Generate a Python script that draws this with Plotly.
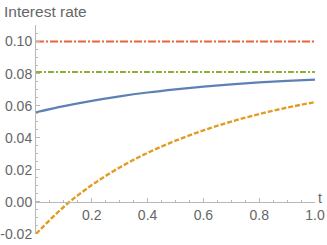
import plotly.graph_objects as go

# data
t_vals = [0.0, 0.1, 0.2, 0.3, 0.4, 0.5, 0.6, 0.7, 0.8, 0.9, 1.0]
blue_rate = [0.0559, 0.0597, 0.0630, 0.0658, 0.0682, 0.0702, 0.0719, 0.0733, 0.0745, 0.0755, 0.0763]
orange_rate = [-0.0200, -0.0030, 0.0105, 0.0215, 0.0306, 0.0382, 0.0446, 0.0501, 0.0548, 0.0588, 0.0622]
green_rate = [0.081, 0.081]
red_rate = [0.100, 0.100]
flat_t = [0.0, 1.0]

x_tick_vals = [0.2, 0.4, 0.6, 0.8, 1.0]
x_tick_text = ["0.2", "0.4", "0.6", "0.8", "1.0"]
y_tick_vals = [-0.02, 0.0, 0.02, 0.04, 0.06, 0.08, 0.10]
y_tick_text = ["-0.02", "0.00", "0.02", "0.04", "0.06", "0.08", "0.10"]

y_min, y_max = -0.02, 0.1103

fig = go.Figure()
fig.add_trace(go.Scatter(x=flat_t, y=red_rate, mode="lines",
                         line=dict(color="#EB6235", width=2, dash="8px,2px,2px,2px")))
fig.add_trace(go.Scatter(x=flat_t, y=green_rate, mode="lines",
                         line=dict(color="#8FB032", width=2, dash="6px,2px,2px,2px")))
fig.add_trace(go.Scatter(x=t_vals, y=blue_rate, mode="lines", line_shape="spline",
                         line=dict(color="#5E81B5", width=2.2)))
fig.add_trace(go.Scatter(x=t_vals, y=orange_rate, mode="lines", line_shape="spline",
                         line=dict(color="#E19C24", width=2.4, dash="5px,2px")))

axis_color = "#b8b8b8"
font_family = "Liberation Sans, Arial, sans-serif"
tick_font = dict(family=font_family, size=14, color="#666666")
x_pos = (0 - y_min) / (y_max - y_min)

fig.update_layout(
    width=327, height=245,
    margin=dict(l=36, r=12, t=25, b=11, autoexpand=False),
    paper_bgcolor="white", plot_bgcolor="white",
    showlegend=False,
    xaxis=dict(range=[0, 1], anchor="free", position=x_pos, automargin=False,
               showgrid=False, zeroline=False, showline=True, linecolor=axis_color, linewidth=1,
               ticks="inside", ticklen=4, tickcolor=axis_color, tickwidth=1,
               tickvals=x_tick_vals, ticktext=x_tick_text, tickfont=tick_font,
               ticklabeloverflow="allow",
               minor=dict(dtick=0.05, tick0=0, ticks="inside", ticklen=2, tickcolor=axis_color)),
    yaxis=dict(range=[y_min, y_max], automargin=False,
               showgrid=False, zeroline=False, showline=True, linecolor=axis_color, linewidth=1,
               ticks="inside", ticklen=4, tickcolor=axis_color, tickwidth=1,
               tickvals=y_tick_vals, ticktext=y_tick_text, tickfont=tick_font,
               ticklabeloverflow="allow",
               minor=dict(dtick=0.005, tick0=0, ticks="inside", ticklen=2, tickcolor=axis_color)),
    annotations=[
        dict(text="Interest rate", xref="paper", yref="paper", x=-34 / 279, y=1, yshift=24,
             xanchor="left", yanchor="top", showarrow=False,
             font=dict(family=font_family, size=15.5, color="#666666")),
        dict(text="t", xref="paper", yref="paper", x=1, y=x_pos, xshift=1, yshift=-6,
             xanchor="left", yanchor="bottom", showarrow=False,
             font=dict(family=font_family, size=14, color="#666666")),
    ],
)

fig.write_html("out.html", config={"displayModeBar": False},
               post_script="document.body.style.margin='0';")
